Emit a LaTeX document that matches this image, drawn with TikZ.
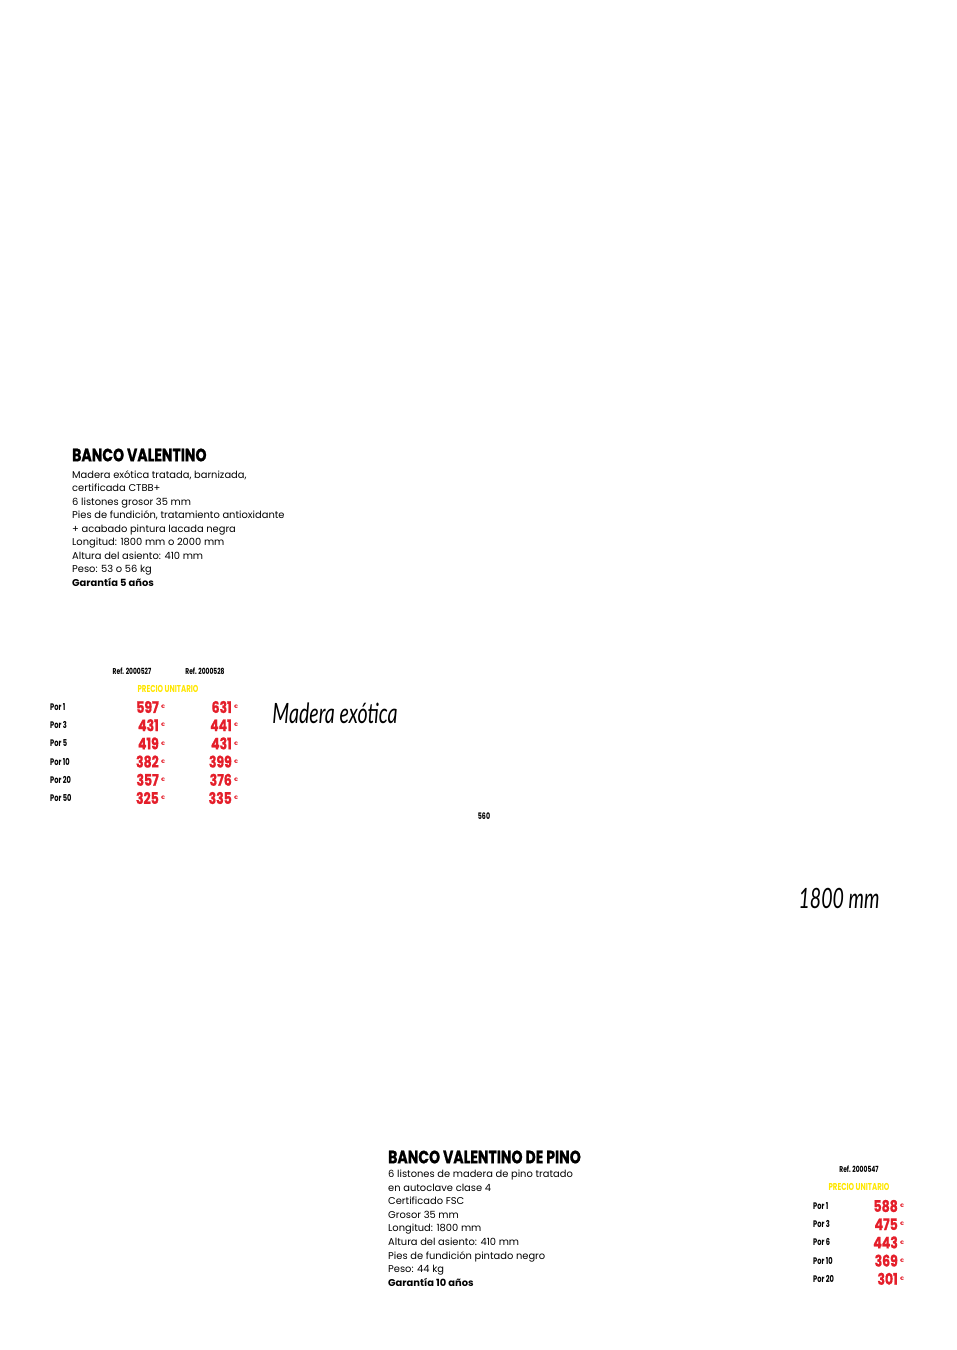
\documentclass[tikz,border=0pt]{standalone}
\usepackage{fontspec}
\setmainfont{Poppins}
\newfontfamily\condfont{Poppins}[FakeStretch=0.7]
\newfontfamily\heavyfont{Poppins}[FakeStretch=0.78,BoldFeatures={FakeBold=0.8}]
\newfontfamily\handfont{Lato}[FakeStretch=0.7]
\usetikzlibrary{positioning}
\definecolor{pricered}{RGB}{228,30,42}
\definecolor{unityellow}{RGB}{255,230,0}

\begin{document}
\begin{tikzpicture}[x=1pt,y=-1pt,
    title/.style={anchor=west,inner sep=0,font=\heavyfont\bfseries\fontsize{18}{18}\selectfont},
    body/.style={anchor=base west,inner sep=0,font=\fontsize{9.9}{12}\selectfont},
    ref/.style={inner sep=0,font=\condfont\bfseries\fontsize{8.5}{8.5}\selectfont},
    unit/.style={inner sep=0,text=unityellow,font=\condfont\bfseries\fontsize{10}{10}\selectfont},
    qty/.style={anchor=west,inner sep=0,font=\condfont\bfseries\fontsize{9.5}{9.5}\selectfont},
    price/.style={anchor=east,inner sep=0,text=pricered,font=\heavyfont\bfseries\fontsize{16}{16}\selectfont},
    euro/.style={anchor=west,inner sep=0,text=pricered,font=\bfseries\fontsize{5}{5}\selectfont},
    hand/.style={inner sep=0,font=\handfont\itshape\fontsize{28}{28}\selectfont}]
  \useasboundingbox (0,0) rectangle (957,1350);

%First bench
  \node[title] (TitleA) at (72,455) {BANCO VALENTINO};
  \foreach \txt [count=\i] in {{Madera exótica tratada, barnizada,},{certificada CTBB+},
      {6 listones grosor 35 mm},{Pies de fundición, tratamiento antioxidante},
      {+ acabado pintura lacada negra},{Longitud: 1800 mm o 2000 mm},
      {Altura del asiento: 410 mm},{Peso: 53 o 56 kg},{\bfseries Garantía 5 años}}
    {\pgfmathsetmacro{\yy}{478+13.55*(\i-1)}
     \node[body] (BodyA\i) at (72,\yy) {\txt};}

  \node[ref] (RefA) at (132,671) {Ref. 2000527};
  \node[ref] (RefB) at (205,671) {Ref. 2000528};
  \node[unit] (UnitA) at (168,689) {PRECIO UNITARIO};

  \foreach \q/\pa/\pb [count=\r] in {1/597/631,3/431/441,5/419/431,10/382/399,20/357/376,50/325/335}
    {\pgfmathsetmacro{\yy}{707+18.2*(\r-1)}
     \node[qty] (QtyA\r) at (50,\yy) {Por \q};
     \node[price] (PriceA\r) at (159,\yy) {\pa};
     \node[euro,right=2pt of PriceA\r] (EuroA\r) {€};
     \node[price] (PriceB\r) at (232,\yy) {\pb};
     \node[euro,right=2pt of PriceB\r] (EuroB\r) {€};}

  \node[hand] (HandA) at (335,713) {Madera exótica};
  \node[ref,font=\condfont\bfseries\fontsize{9}{9}\selectfont] (Page) at (484,816) {560};
  \node[hand] (HandB) at (839,898) {1800 mm};

%Second bench
  \node[title] (TitleB) at (388,1157) {BANCO VALENTINO DE PINO};
  \foreach \txt [count=\i] in {{6 listones de madera de pino tratado},{en autoclave clase 4},
      {Certificado FSC},{Grosor 35 mm},{Longitud: 1800 mm},{Altura del asiento: 410 mm},
      {Pies de fundición pintado negro},{Peso: 44 kg},{\bfseries Garantía 10 años}}
    {\pgfmathsetmacro{\yy}{1177.5+13.6*(\i-1)}
     \node[body] (BodyB\i) at (388,\yy) {\txt};}

  \node[ref] (RefC) at (859,1169) {Ref. 2000547};
  \node[unit] (UnitB) at (859,1187) {PRECIO UNITARIO};

  \foreach \q/\pa [count=\r] in {1/588,3/475,6/443,10/369,20/301}
    {\pgfmathsetmacro{\yy}{1206+18.2*(\r-1)}
     \node[qty] (QtyB\r) at (813,\yy) {Por \q};
     \node[price] (PriceC\r) at (898,\yy) {\pa};
     \node[euro,right=2pt of PriceC\r] (EuroC\r) {€};}
\end{tikzpicture}
\end{document}
